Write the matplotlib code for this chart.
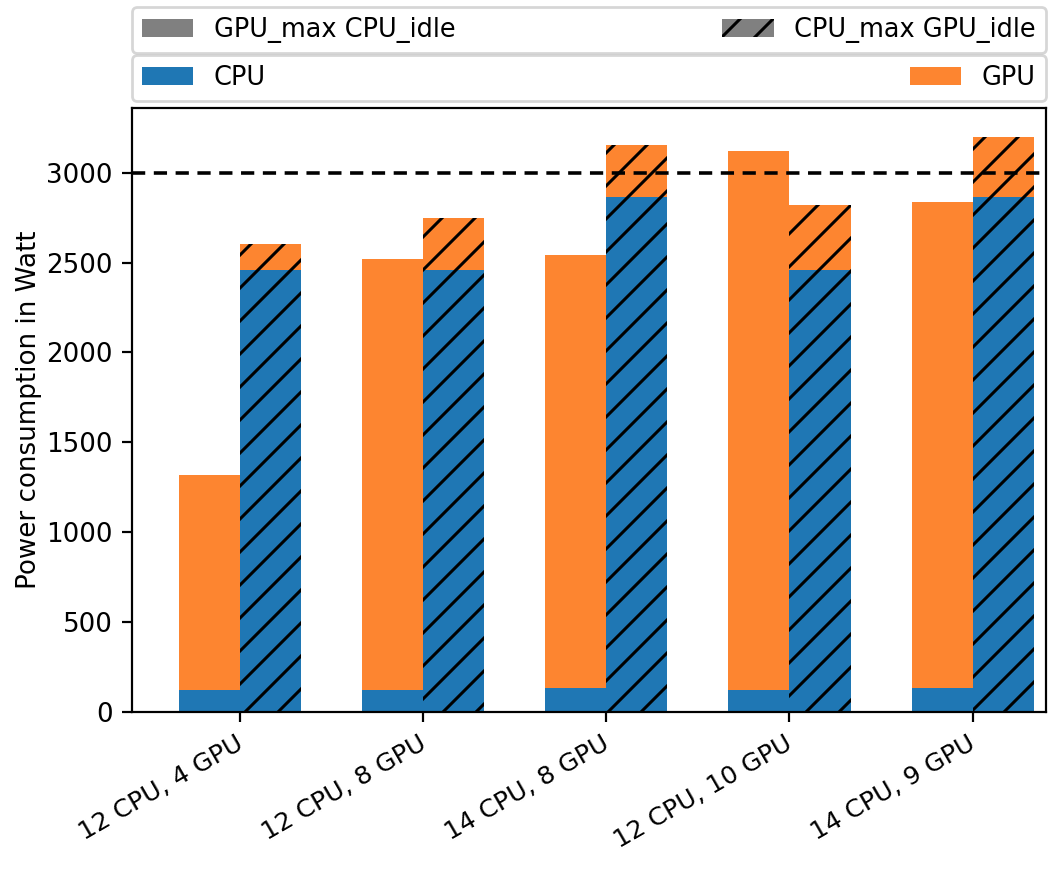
import numpy as np
import matplotlib
matplotlib.use("Agg")
import matplotlib.pyplot as plt
import matplotlib.transforms as mtransforms
from matplotlib.patches import Patch

configs = ["12 CPU, 4 GPU", "12 CPU, 8 GPU", "14 CPU, 8 GPU",
           "12 CPU, 10 GPU", "14 CPU, 9 GPU"]
# GPU_max CPU_idle scenario
gmax_cpu = [120, 120, 135, 120, 135]
gmax_gpu = [1200, 2400, 2405, 3002, 2703]
# CPU_max GPU_idle scenario
cmax_cpu = [2460, 2460, 2866, 2460, 2866]
cmax_gpu = [144, 289, 289, 361, 334]
power_limit = 3000

cpu_col = "#1f77b4"
gpu_col = "#fd8530"

plt.rcParams['hatch.linewidth'] = 1.1
plt.rcParams['font.size'] = 9.5

dpi = 198
fig = plt.figure(figsize=(1064 / dpi, 869 / dpi), dpi=dpi)
ax = fig.add_axes([0.124, 0.1807, 0.859, 0.695])

x = np.arange(len(configs))
w = 1 / 3.

ax.bar(x - w / 2, gmax_cpu, w, color=cpu_col)
ax.bar(x - w / 2, gmax_gpu, w, bottom=gmax_cpu, color=gpu_col)
ax.bar(x + w / 2, cmax_cpu, w, color=cpu_col, hatch='//', edgecolor='black', linewidth=0)
ax.bar(x + w / 2, cmax_gpu, w, bottom=cmax_cpu, color=gpu_col, hatch='//',
       edgecolor='black', linewidth=0)

ax.axhline(power_limit, color='black', linestyle=(0, (3.7, 2.4)), linewidth=1.3)

ax.set_xlim(-0.59, 4.40)
ax.set_xticks(x)
ax.set_xticklabels(configs, rotation=30, ha='right', fontsize=9.2)
shift = mtransforms.ScaledTranslation(7 / dpi, 0, fig.dpi_scale_trans)
for lab in ax.get_xticklabels():
    lab.set_transform(lab.get_transform() + shift)
ax.set_ylabel("Power consumption in Watt", labelpad=1.6)

leg1 = ax.legend(handles=[Patch(facecolor='gray', label='GPU_max CPU_idle'),
                          Patch(facecolor='gray', hatch='//', edgecolor='black',
                                linewidth=0, label='CPU_max GPU_idle')],
                 loc='lower left', bbox_to_anchor=(0, 1.091, 1, 0.05),
                 mode='expand', ncol=2, borderaxespad=0, fontsize=9.3)
ax.add_artist(leg1)
ax.legend(handles=[Patch(facecolor=cpu_col, label='CPU'),
                   Patch(facecolor=gpu_col, label='GPU')],
          loc='lower left', bbox_to_anchor=(0, 1.0116, 1, 0.05),
          mode='expand', ncol=2, borderaxespad=0, fontsize=9.3)

plt.savefig("out.png", dpi=dpi, facecolor='w')
